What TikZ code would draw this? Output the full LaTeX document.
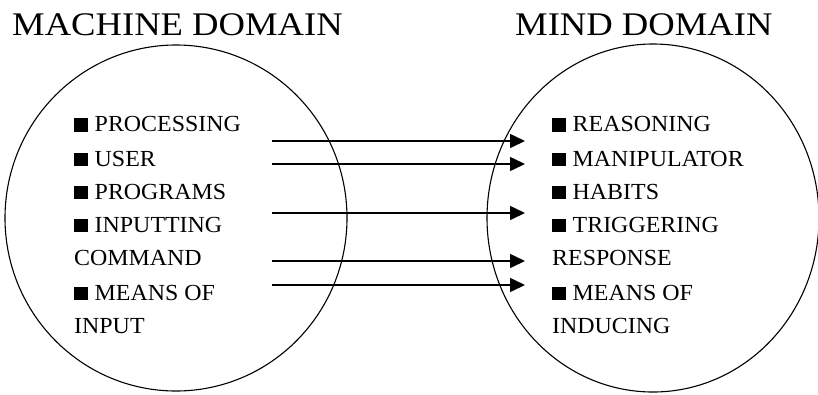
\documentclass[tikz,border=0pt]{standalone}
\usepackage{fontspec}
\setmainfont{Liberation Serif}
\newfontfamily\titleserif[FakeStretch=1.11]{Liberation Serif}
\newfontfamily\itemserif[FakeStretch=1.04]{Liberation Serif}
\newcommand\mysq{\rule{14pt}{13.5pt}\hspace{6.5pt}}
\usetikzlibrary{arrows.meta}
\begin{document}
\begin{tikzpicture}[x=1pt,y=-1pt,
  titletext/.style={anchor=base west,inner sep=0pt,font=\titleserif\fontsize{33}{38}\selectfont},
  itemtext/.style={anchor=base west,inner sep=0pt,font=\itemserif\fontsize{23}{26}\selectfont},
  domainring/.style={draw=black,line width=1.1pt},
  linkarrow/.style={line width=1.5pt,-{Triangle[length=15pt,width=14pt]}}]
\useasboundingbox (0,0) rectangle (818,394);
% domains
\draw[domainring] (176,218) ellipse [x radius=171, y radius=173];
\draw[domainring] (653,218) ellipse [x radius=166, y radius=174];
% titles
\node[titletext] (t1) at (12,35) {MACHINE DOMAIN};
\node[titletext] (t2) at (515,35) {MIND DOMAIN};
% left items
\node[itemtext] (l1) at (74,131.5) {\mysq PROCESSING};
\node[itemtext] (l2) at (74,166) {\mysq USER};
\node[itemtext] (l3) at (74,199) {\mysq PROGRAMS};
\node[itemtext] (l4) at (74,232) {\mysq INPUTTING};
\node[itemtext] (l5) at (74,265) {COMMAND};
\node[itemtext] (l6) at (74,300) {\mysq MEANS OF};
\node[itemtext] (l7) at (74,333) {INPUT};
% right items
\node[itemtext] (r1) at (552,131.5) {\mysq REASONING};
\node[itemtext] (r2) at (552,166) {\mysq MANIPULATOR};
\node[itemtext] (r3) at (552,199) {\mysq HABITS};
\node[itemtext] (r4) at (552,232) {\mysq TRIGGERING};
\node[itemtext] (r5) at (552,265) {RESPONSE};
\node[itemtext] (r6) at (552,300) {\mysq MEANS OF};
\node[itemtext] (r7) at (552,333) {INDUCING};
% connectors
\coordinate (s1) at (272,141); \coordinate (e1) at (525,141);
\coordinate (s2) at (272,164); \coordinate (e2) at (525,164);
\coordinate (s3) at (272,213); \coordinate (e3) at (525,213);
\coordinate (s4) at (272,261); \coordinate (e4) at (525,261);
\coordinate (s5) at (272,285); \coordinate (e5) at (525,285);
\foreach \i in {1,...,5} \draw[linkarrow] (s\i) -- (e\i);
\end{tikzpicture}
\end{document}
